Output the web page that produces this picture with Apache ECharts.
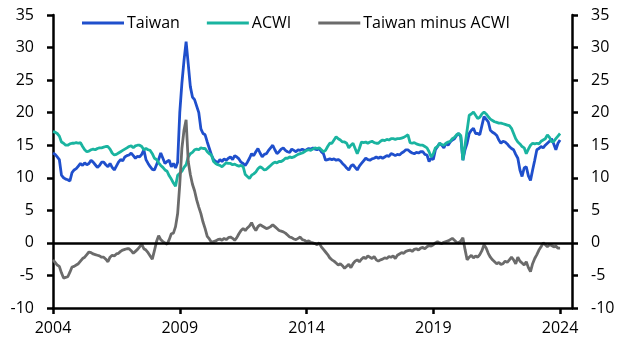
<!DOCTYPE html>
<html>
<head>
<meta charset="utf-8">
<script src="https://cdn.jsdelivr.net/npm/echarts@6/dist/echarts.min.js"></script>
<style>
html,body{margin:0;padding:0;background:#fff;}
#chart{width:633px;height:354px;}
</style>
</head>
<body>
<div id="chart"></div>
<script>
// Monthly observations, Jan 2004 .. Jan 2024
const startYear = 2004;
const xTicks = [2004, 2009, 2014, 2019, 2024];
const yTicksMin = -10, yTicksMax = 35, yStep = 5;

const taiwan = [
  13.8,13.6,13.2,12.8,10.4,10.0,9.8,9.7,9.5,10.8,11.2,11.4,
  11.8,12.2,11.9,12.3,12.0,12.2,12.7,12.4,12.0,11.6,11.9,12.4,
  12.4,12.0,11.7,12.2,11.6,11.2,11.8,12.4,12.8,12.6,13.2,13.4,
  13.5,13.8,13.4,13.0,13.3,13.2,13.6,14.3,12.8,12.2,11.7,11.3,
  11.2,12.0,12.8,13.8,13.0,12.2,12.5,12.7,11.7,12.2,11.5,12.4,
  20.0,24.5,28.0,30.9,27.5,24.0,22.4,22.0,21.0,20.0,17.5,16.8,
  16.6,15.5,14.5,13.5,12.8,12.5,12.3,12.8,12.5,12.9,12.7,13.0,
  13.2,12.8,13.4,13.2,12.9,12.4,12.2,11.9,12.4,13.0,13.7,13.4,
  14.0,14.5,13.8,13.2,13.6,13.7,14.2,14.6,15.0,14.3,13.7,14.0,
  14.4,14.6,14.2,14.0,13.9,14.4,14.2,14.0,14.3,14.2,14.4,14.2,
  14.3,14.5,14.4,14.6,14.4,14.3,14.5,14.0,13.7,12.7,12.8,12.9,
  12.8,12.9,12.7,12.8,12.6,12.2,11.9,11.5,11.2,11.8,12.0,11.6,
  11.2,11.8,12.2,12.6,13.0,12.8,12.7,12.9,13.0,13.2,13.0,13.2,
  13.0,13.2,13.4,13.3,13.7,13.6,13.4,13.6,13.5,13.8,14.0,14.3,
  14.3,14.0,13.8,13.7,13.9,13.8,14.0,14.0,13.6,13.5,12.5,13.0,
  12.8,14.3,14.8,15.3,15.0,14.6,15.3,15.0,15.5,15.8,16.0,16.5,
  16.8,16.3,12.7,14.3,15.3,16.8,17.3,17.6,16.8,16.8,16.6,18.0,
  19.4,19.0,18.6,17.3,17.0,16.8,16.5,15.8,15.3,15.6,15.5,15.2,
  14.8,14.5,14.3,13.6,13.0,11.2,10.2,11.5,11.7,10.3,9.6,11.2,
  12.7,14.3,14.5,14.8,14.6,15.0,15.3,15.6,16.0,15.2,14.3,15.3,
  15.8
];

const acwi = [
  17.1,17.0,16.8,16.4,15.5,15.3,15.0,15.0,15.2,15.3,15.3,15.4,
  15.3,15.4,14.8,14.3,14.0,14.1,14.3,14.4,14.3,14.5,14.6,14.6,
  14.7,14.8,14.8,14.4,13.8,13.5,13.6,13.8,14.0,14.2,14.4,14.6,
  14.8,14.9,14.6,14.9,15.0,15.0,14.8,14.3,14.5,14.3,14.2,13.7,
  13.0,12.8,12.3,11.9,11.6,11.2,11.0,10.3,9.8,9.2,8.7,10.4,
  10.7,11.0,11.6,12.0,13.2,13.7,13.9,14.3,14.4,14.3,14.6,14.5,
  14.5,14.0,13.7,13.5,12.5,12.2,12.0,11.9,11.7,12.0,12.3,12.2,
  12.2,12.0,12.1,11.9,11.8,11.9,11.7,10.5,10.2,9.9,10.4,10.6,
  10.9,11.4,11.7,11.5,11.2,11.3,11.6,11.9,12.2,12.4,12.3,12.5,
  12.5,12.7,13.0,13.0,13.2,13.1,13.2,13.4,13.6,13.7,13.8,14.0,
  14.2,14.3,14.2,14.4,14.6,14.5,14.6,14.3,14.0,14.2,14.8,15.3,
  15.3,15.8,16.3,16.0,15.8,15.5,15.5,15.3,14.6,15.0,15.3,14.5,
  13.7,14.5,15.5,15.4,15.5,15.3,15.5,15.6,15.4,15.3,15.3,15.6,
  15.8,15.7,15.9,15.8,16.0,16.0,15.9,16.0,16.0,16.1,16.2,16.4,
  16.6,15.4,15.3,15.4,15.2,15.1,15.0,15.0,14.8,14.6,14.0,13.2,
  13.7,14.6,14.8,15.3,15.1,15.0,15.3,15.5,15.6,16.0,16.2,16.6,
  16.8,16.5,12.7,15.0,17.3,19.6,19.8,20.1,19.6,19.1,19.3,19.8,
  20.1,19.8,19.4,19.0,18.8,18.6,18.5,18.4,18.4,18.3,18.2,18.1,
  18.0,17.6,16.8,16.0,15.5,15.2,14.8,14.6,13.7,14.4,15.0,15.3,
  15.2,15.3,15.2,15.6,15.8,16.0,16.6,16.2,15.5,15.6,16.0,16.4,
  16.8
];

const taiwanMinusAcwi = [
  -2.6,-3.0,-3.4,-3.6,-4.6,-5.4,-5.3,-5.2,-4.5,-3.7,-3.6,-3.4,
  -3.2,-2.8,-2.4,-2.2,-1.8,-1.4,-1.5,-1.7,-1.8,-1.9,-2.0,-2.2,
  -2.2,-2.5,-2.9,-2.2,-1.9,-2.0,-1.7,-1.6,-1.3,-1.1,-1.0,-0.9,
  -0.9,-1.2,-1.6,-1.3,-1.0,-0.6,-0.2,-0.9,-1.1,-1.5,-2.0,-2.5,
  -1.2,0.2,1.1,0.5,0.2,0.0,-0.2,0.5,1.4,1.5,2.5,4.5,
  9.0,14.5,17.3,18.9,12.5,10.5,9.0,8.0,6.6,5.5,4.5,3.2,
  2.2,1.0,0.6,0.1,0.2,0.3,0.5,0.6,0.4,0.7,0.5,0.8,
  0.9,0.7,0.4,0.8,1.4,1.9,2.2,1.9,2.3,2.6,3.1,2.4,
  1.9,2.5,2.8,2.6,2.4,2.2,2.3,2.5,2.8,2.5,2.2,1.9,
  1.8,1.7,1.5,1.2,0.9,0.8,0.6,0.5,0.7,0.9,0.5,0.4,
  0.2,0.3,0.1,0.0,-0.1,-0.3,0.0,-0.6,-1.0,-1.4,-1.8,-2.3,
  -2.6,-2.8,-3.1,-3.4,-3.2,-3.5,-3.9,-3.6,-3.3,-3.8,-3.2,-2.8,
  -2.6,-2.9,-2.5,-2.2,-2.4,-2.0,-2.2,-2.4,-2.1,-2.6,-2.8,-2.6,
  -2.5,-2.3,-2.4,-2.1,-2.2,-2.0,-2.4,-1.9,-1.7,-1.5,-1.6,-1.3,
  -1.2,-1.1,-1.3,-1.0,-0.9,-1.1,-0.8,-0.7,-0.9,-0.6,-0.4,-0.5,
  -0.3,0.0,0.2,0.0,-0.1,0.1,0.2,0.3,0.5,0.7,0.4,0.1,
  0.0,0.3,0.8,-1.0,-2.6,-2.2,-1.9,-2.3,-2.0,-2.2,-1.8,-1.2,
  -0.3,-0.8,-1.6,-2.2,-2.6,-2.9,-3.2,-3.0,-3.3,-3.2,-2.8,-3.0,
  -2.6,-2.2,-2.6,-3.2,-2.2,-2.8,-3.1,-3.4,-2.9,-3.8,-4.4,-3.2,
  -2.4,-1.8,-1.1,-0.6,0.0,-0.3,-0.6,-0.3,-0.4,-0.6,-0.5,-0.8,
  -0.8
];

function toPairs(arr){ return arr.map((v,i)=>[startYear + i/12, v]); }

const FONT = 'Open Sans';
const chart = echarts.init(document.getElementById('chart'), null, {renderer:'canvas'});

const yAxisBase = {
  type:'value', min:yTicksMin, max:yTicksMax, interval:yStep,
  axisLine:{show:true, lineStyle:{color:'#000', width:2.5}},
  axisTick:{show:true, length:6, lineStyle:{color:'#000', width:2.5}},
  splitLine:{show:false},
  axisLabel:{color:'#000', fontFamily:FONT, fontSize:16, margin:19}
};

chart.setOption({
  animation:false,
  backgroundColor:'#fff',
  grid:{left:53, right:61, top:15, bottom:46, containLabel:false},
  legend:{
    left:77, top:10, itemWidth:42, itemHeight:14, itemGap:27,
    icon:'path://M0,6 L42,6 L42,8.8 L0,8.8 Z',
    textStyle:{color:'#000', fontFamily:FONT, fontSize:16, padding:[0,0,0,-2]},
    data:['Taiwan','ACWI','Taiwan minus ACWI']
  },
  xAxis:{
    type:'value', min:2004, max:2024.47,
    axisLine:{show:true, onZero:false, lineStyle:{color:'#000', width:2.5}},
    axisTick:{show:true, length:6, customValues:xTicks, lineStyle:{color:'#000', width:2.5}},
    axisLabel:{color:'#000', fontFamily:FONT, fontSize:16, margin:12, customValues:xTicks,
      formatter:(v)=>String(Math.round(v))},
    splitLine:{show:false}
  },
  yAxis:[
    Object.assign({}, yAxisBase, {position:'left'}),
    Object.assign({}, yAxisBase, {position:'right'})
  ],
  series:[
    {
      name:'Taiwan', type:'line', data:toPairs(taiwan), showSymbol:false, symbol:'none',
      lineStyle:{color:'#1f4fcc', width:2.8}, itemStyle:{color:'#1f4fcc'}, z:2,
      markLine:{silent:true, symbol:'none', label:{show:false},
        lineStyle:{color:'#000', width:2.5, type:'solid'}, data:[{yAxis:0}]}
    },
    {
      name:'ACWI', type:'line', data:toPairs(acwi), showSymbol:false, symbol:'none',
      lineStyle:{color:'#1ab4a0', width:2.8}, itemStyle:{color:'#1ab4a0'}, z:3
    },
    {
      name:'Taiwan minus ACWI', type:'line', data:toPairs(taiwanMinusAcwi), showSymbol:false, symbol:'none',
      lineStyle:{color:'#6b6b6b', width:2.8}, itemStyle:{color:'#6b6b6b'}, z:4
    }
  ]
});
</script>
</body>
</html>
